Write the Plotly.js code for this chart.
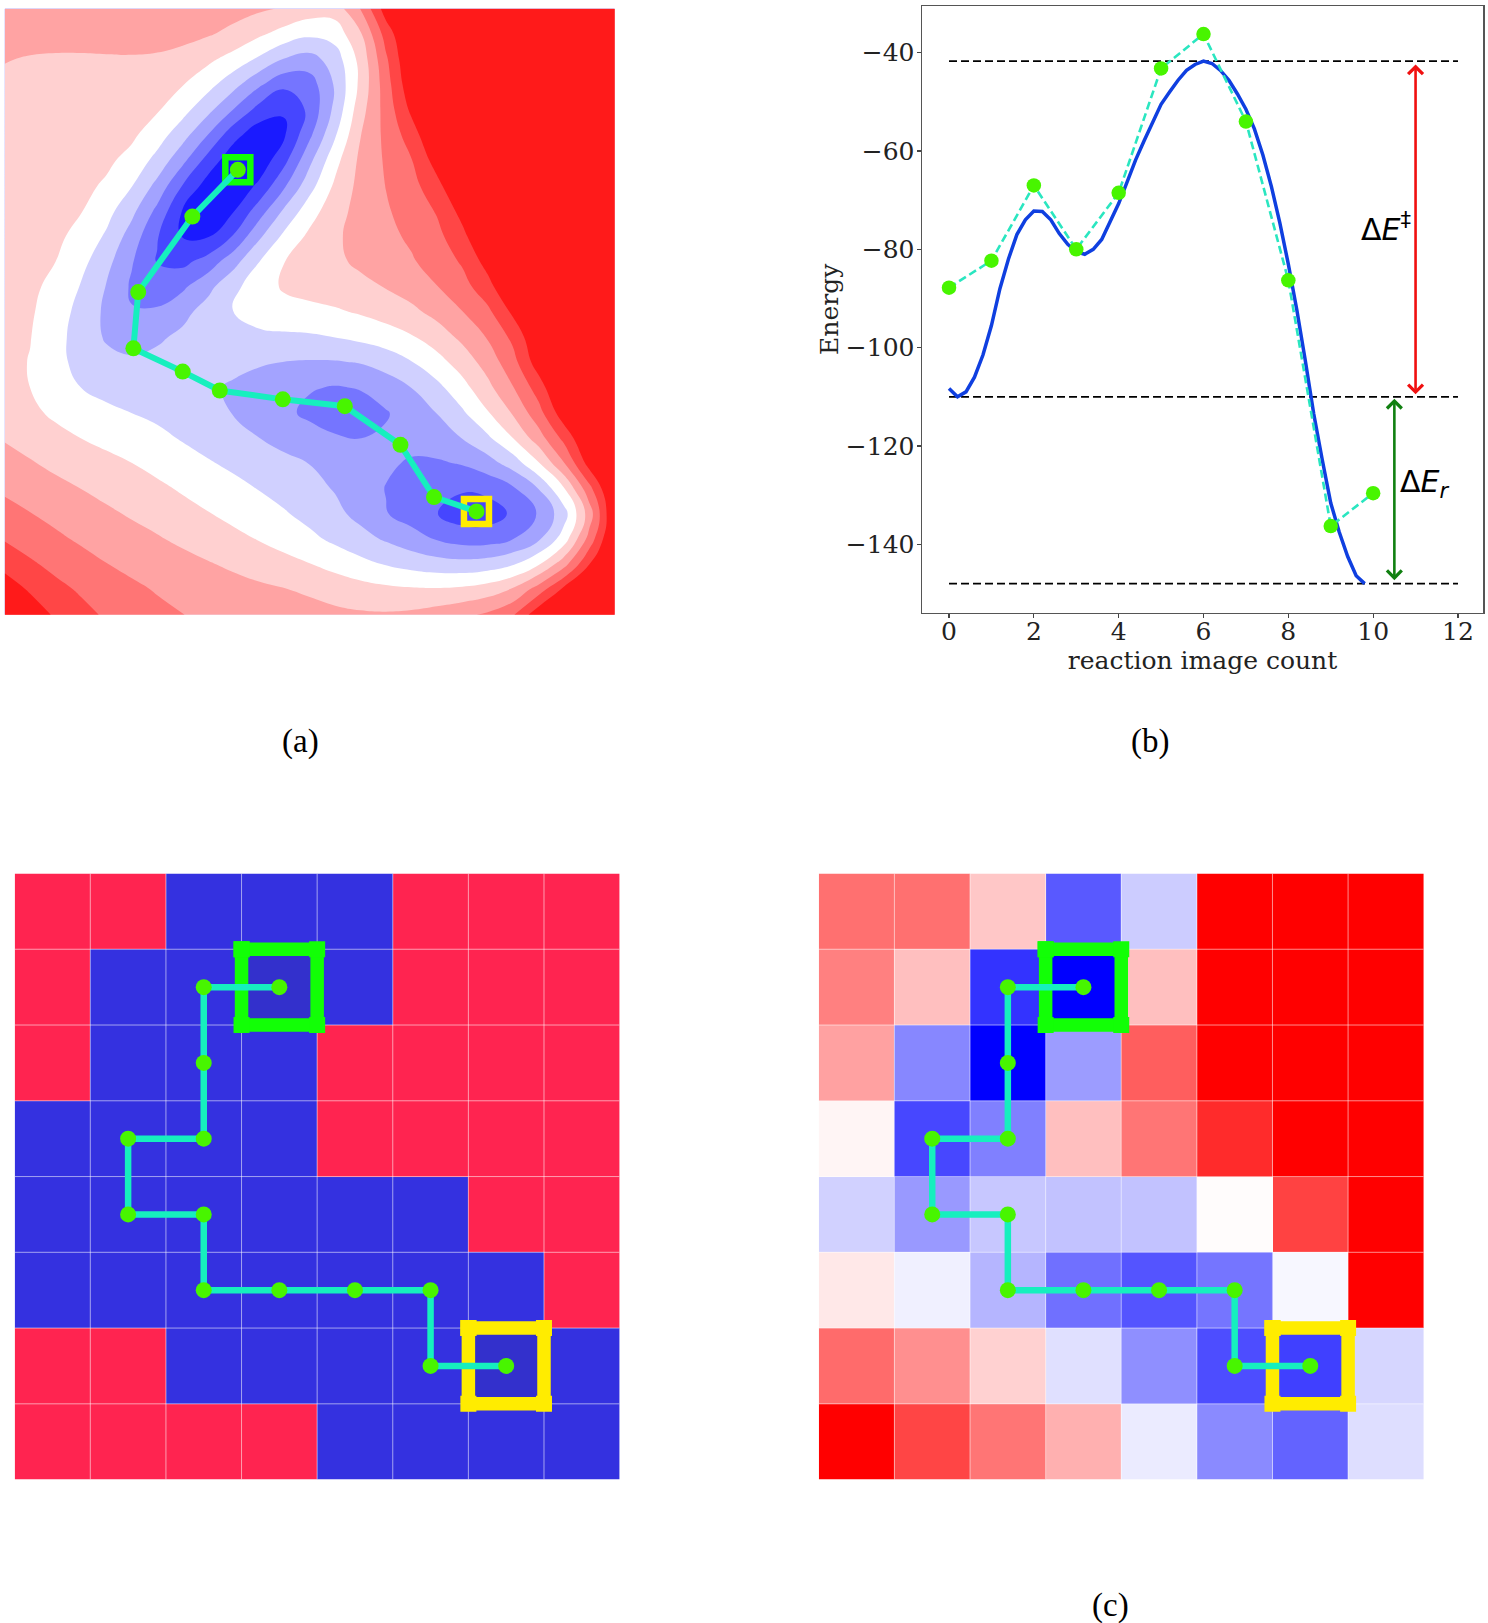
<!DOCTYPE html>
<html><head><meta charset="utf-8">
<script src="https://cdn.plot.ly/plotly-3.0.0.min.js"></script>
<style>html,body{margin:0;padding:0;background:#fff}#chart{width:1488px;height:1623px}</style>
</head><body><div id="chart"></div>
<script>
// (a) energy surface: band index (rows top to bottom)
const surfaceBandColors = ['#1a1aff','#4646ff','#7575ff','#a3a3ff','#d0d0ff','#ffffff','#ffd0d0','#ffa3a3','#ff7575','#ff4646','#ff1a1a'];
const surfaceZ = [
[2.1,2.1,2.1,2.1,2.1,2.1,2.1,2.1,2.0,2.0,1.85,1.7,1.3,.8,2.6,5.6,8,8,8,8,8,8,8,8,8],
[1.9,1.9,1.9,1.9,1.9,1.9,1.9,1.9,1.75,1.4,.65,.15,-.35,-.35,.9,3.9,6,8,8,8,8,8,8,8,8],
[1.55,1.35,1.3,1.3,1.35,1.4,1.4,1.2,.65,.15,-.5,-1.6,-2.3,-1.25,.65,3.3,6,8,8,8,8,8,8,8,8],
[1.3,1.2,1.2,1.2,1.2,1.1,.9,.6,-.05,-1.1,-2.4,-3.6,-3.4,-1.5,.6,3,5.6,8,8,8,8,8,8,8,8],
[1.2,1.15,1.15,1.1,1.05,.9,.8,-.05,-1.15,-2.4,-3.9,-5.1,-3.5,-1.4,1.35,2.8,4.8,7,8,8,8,8,8,8,8],
[1.15,1.1,1.05,1,.95,.85,0,-1.05,-2.4,-4.4,-5.7,-5.1,-2.7,-.7,1.7,2.8,3.7,6,8,8,8,8,8,8,8],
[1.1,1.05,1,.9,.75,.3,-.7,-2.1,-4,-5.6,-5.6,-3.9,-1.6,.3,1.9,2.65,3.2,5,7,8,8,8,8,8,8],
[1.05,1,.95,.8,.5,-.35,-1.7,-3.6,-5.3,-5.7,-4.5,-2.7,-.9,.75,1.9,2.55,3.1,3.95,6,8,8,8,8,8,8],
[1,.95,.85,.65,-.1,-1.2,-2.6,-5.1,-5.7,-4.7,-3,-1.2,.2,1.2,1.9,2.4,2.9,3.4,4.7,7,8,8,8,8,8],
[.95,.9,.75,.3,-.5,-1.95,-3.6,-4.9,-5,-3.7,-1.6,-.2,.85,1.4,1.9,2.25,2.65,3.15,4.05,6,8,8,8,8,8],
[.9,.8,.6,-.15,-1.2,-2.4,-3.9,-4,-3.1,-1.8,-.35,.75,1.05,1.35,1.75,2.05,2.4,2.95,3.45,4.8,7,8,8,8,8],
[.8,.7,.4,-.6,-1.5,-2.9,-3.3,-2.7,-1.7,-.55,.2,.8,.9,1.05,1.3,1.55,2,2.5,3.1,4,6,8,8,8,8],
[.95,.7,0,-.85,-1.7,-2.7,-2.4,-1.75,-.95,-.25,.1,.25,.3,.4,.6,.95,1.25,1.8,2.55,3,4.7,7,8,8,8],
[.85,.62,-.15,-1,-1.75,-2.1,-1.6,-1.2,-.95,-.85,-.75,-.7,-.65,-.45,-.15,.1,.4,.95,1.7,2.6,3.4,5.6,8,8,8],
[.85,.52,-.3,-.85,-1.25,-1.3,-1.15,-1.05,-1.1,-1.2,-1.4,-1.55,-1.6,-1.6,-1.55,-1.2,-.55,.15,.9,1.9,2.95,5.5,8,8,8],
[.8,.52,-.05,-.6,-.85,-.95,-1,-1.15,-1.4,-1.75,-2.05,-2.25,-2.5,-2.7,-2.55,-2.05,-1.6,-.85,.15,1.2,2.55,3.5,6.5,8,8],
[.85,.7,.3,0,-.3,-.55,-.75,-1,-1.25,-1.55,-1.9,-2.4,-3,-3.3,-3.2,-2.8,-2.2,-1.6,-.7,.5,1.6,3,5.5,8,8],
[1.55,1.05,.75,.5,.25,.1,-.25,-.6,-.95,-1.25,-1.5,-1.8,-2,-2.4,-2.55,-2.3,-2.1,-1.9,-1.5,-.75,.55,2.2,3.5,6,8],
[1.9,1.6,1.25,.95,.75,.5,.2,-.1,-.4,-.7,-1,-1.25,-1.45,-1.75,-2,-2.3,-2.7,-2.7,-2.5,-1.95,-1.15,.4,2.5,5.5,8],
[2.35,2.05,1.8,1.5,1.25,1,.7,.4,.1,-.2,-.55,-.9,-1.2,-1.6,-2,-2.6,-3,-3.2,-3.4,-3.3,-2.9,-1.8,.2,3,8],
[2.95,2.5,2.25,1.95,1.65,1.4,1.15,.8,.55,.25,-.05,-.4,-.85,-1.25,-1.85,-2.7,-3.1,-3.7,-4.6,-4.6,-3.6,-2.8,-1.7,1,6.5],
[3.45,2.95,2.65,2.35,2.05,1.8,1.6,1.3,1,.7,.45,.1,-.3,-.8,-1.2,-1.6,-2.1,-2.7,-3,-3.1,-2.8,-2,-.45,2.75,7],
[4.3,3.6,3.2,2.85,2.5,2.25,2.05,1.85,1.6,1.35,1.05,.8,.55,.15,-.25,-.65,-.95,-1.1,-1.2,-1.05,-.7,.25,1.75,4.6,7],
[5.2,4.3,3.75,3.35,3,2.7,2.4,2.25,2.05,1.9,1.75,1.6,1.45,1.2,.95,.8,.7,.6,.65,.95,1.5,2.8,5.2,8,8],
[6,5.2,4.45,3.9,3.4,3.1,2.8,2.55,2.4,2.25,2.1,2,1.9,1.8,1.75,1.75,1.85,2.2,2.6,3,3.4,6,8,8,8]
];
const surfacePathX = [9.17,7.38,5.25,5.06,7.0,8.46,10.94,13.38,15.57,16.89,18.56];
const surfacePathY = [6.38,8.23,11.22,13.45,14.37,15.12,15.47,15.74,17.27,19.34,19.91];

// (b) energy profile
const imageCount = [0,1,2,3,4,5,6,7,8,9,10];
const imageEnergy = [-87.8,-82.3,-67,-80,-68.5,-43.2,-36.2,-54,-86.3,-136.3,-129.6];
const curveX = [0,.2,.4,.6,.8,1,1.2,1.4,1.6,1.8,2,2.2,2.4,2.6,2.8,3,3.2,3.4,3.6,3.8,4,4.2,4.4,4.6,4.8,5,5.2,5.4,5.6,5.8,6,6.2,6.4,6.6,6.8,7,7.2,7.4,7.6,7.8,8,8.2,8.4,8.6,8.8,9,9.2,9.4,9.6,9.8];
const curveEnergy = [-108.3,-110,-109,-106,-101.5,-95.5,-88,-82,-77,-74,-72.2,-72.3,-74,-76.8,-79,-80.5,-81,-80,-78,-74.5,-70.7,-66.3,-61.8,-57.9,-54,-50.5,-48,-45.6,-43.6,-42.4,-41.7,-42.2,-43.6,-45.6,-48.4,-51.5,-55.5,-60.8,-67.2,-74.6,-83,-92.3,-102.6,-113.5,-122.8,-131.6,-137.5,-142.5,-146.4,-148];
const refLevels = [-41.7,-110,-148];
const xTicks = [0,2,4,6,8,10,12];
const yTicks = [-40,-60,-80,-100,-120,-140];

// (c) grids
const classGrid = [
[1,1,0,0,0,1,1,1],
[1,0,0,0,0,1,1,1],
[1,0,0,0,1,1,1,1],
[0,0,0,0,1,1,1,1],
[0,0,0,0,0,0,1,1],
[0,0,0,0,0,0,0,1],
[1,1,0,0,0,0,0,0],
[1,1,1,1,0,0,0,0]];
const energyGrid = [
[.56,.56,.22,-.65,-.2,1,1,1],
[.5,.25,-.8,-1,.25,1,1,1],
[.37,-.47,-1,-.39,.63,1,1,1],
[.04,-.72,-.5,.25,.54,.83,1,1],
[-.18,-.4,-.22,-.24,-.24,.01,.74,1],
[.09,-.06,-.29,-.56,-.67,-.54,-.03,1],
[.58,.44,.18,-.12,-.44,-.7,-.75,-.16],
[1,.73,.54,.31,-.08,-.46,-.61,-.13]];
const gridPathCol = [3,2,2,2,1,1,2,2,3,4,5,5,6];
const gridPathRow = [1,1,2,3,3,4,4,5,5,5,5,6,6];
const startCell = [3,1], endCell = [6,6];

const TEAL='#16efbe', DOT='#48f500', LIME='#12ff06', YELLOW='#ffec00';
const SERIF='"DejaVu Serif", serif';

function dom(a,b,size){return [a/size,b/size];}
function ydom(top,bottom){return [1-bottom/1623,1-top/1623];}
const hidden=(o)=>Object.assign({visible:false,showgrid:false,zeroline:false},o);
const idx=(n)=>Array.from({length:n},(_,i)=>i);

// evens out the reading noise of the hand-read table so the contour edges stay smooth
function evenOut(g){
  const N=g.length, c=g.map(r=>r.map(v=>Math.min(v,6.5)));
  const at=(j,i)=>c[Math.max(0,Math.min(N-1,j))][Math.max(0,Math.min(N-1,i))];
  return c.map((r,j)=>r.map((_,i)=>{
    let s=0;
    for(let a=-1;a<=1;a++)for(let b=-1;b<=1;b++){s+=(a?1:4)*(b?1:4)*at(j+a,i+b);}
    return s/36;
  }));
}

const traces=[];
// (a)
const n=surfaceBandColors.length;
traces.push({type:'contour',xaxis:'x',yaxis:'y',x:idx(25),y:idx(25),z:evenOut(surfaceZ),autocontour:false,
  contours:{coloring:'fill',start:-4.5,end:4.5,size:1,showlines:false},
  line:{width:0,smoothing:1.3},zmin:-5,zmax:5,showscale:false,hoverinfo:'skip',
  colorscale:surfaceBandColors.map((c,i)=>[i/(n-1),c])});
traces.push({type:'scatter',mode:'markers',xaxis:'x',yaxis:'y',x:[surfacePathX[0]],y:[surfacePathY[0]],
  marker:{symbol:'square-open',size:25,color:LIME,line:{color:LIME,width:6.5}},showlegend:false});
traces.push({type:'scatter',mode:'markers',xaxis:'x',yaxis:'y',x:[surfacePathX[10]],y:[surfacePathY[10]],
  marker:{symbol:'square-open',size:25,color:YELLOW,line:{color:YELLOW,width:6.5}},showlegend:false});
traces.push({type:'scatter',mode:'lines+markers',xaxis:'x',yaxis:'y',x:surfacePathX,y:surfacePathY,
  line:{color:TEAL,width:6},marker:{color:DOT,size:16},showlegend:false});

// (b)
refLevels.forEach(v=>traces.push({type:'scatter',mode:'lines',xaxis:'x2',yaxis:'y2',x:[0,12],y:[v,v],
  line:{color:'#000',width:1.8,dash:'8px,4px'},showlegend:false}));
traces.push({type:'scatter',mode:'lines',xaxis:'x2',yaxis:'y2',x:curveX,y:curveEnergy,
  line:{color:'#0f3fe0',width:3.5},showlegend:false});
traces.push({type:'scatter',mode:'lines+markers',xaxis:'x2',yaxis:'y2',x:imageCount,y:imageEnergy,
  line:{color:'#2ae6c0',width:2.6,dash:'8px,4px'},marker:{color:DOT,size:14.5},showlegend:false});

// (c)
function addGrid(z,xa,ya,cs,zmin,zmax,tint){
  traces.push({type:'heatmap',xaxis:xa,yaxis:ya,z:z,x:idx(8),y:idx(8),colorscale:cs,zmin:zmin,zmax:zmax,showscale:false,hoverinfo:'skip'});
  const gx=[],gy=[];
  for(let k=0;k<7;k++){gx.push(k+.5,k+.5,null,-.5,7.5,null);gy.push(-.5,7.5,null,k+.5,k+.5,null);}
  traces.push({type:'scatter',mode:'lines',xaxis:xa,yaxis:ya,x:gx,y:gy,line:{color:'rgba(255,255,255,.55)',width:1},showlegend:false,hoverinfo:'skip'});
  [[startCell,LIME],[endCell,YELLOW]].forEach(([c,col])=>{
    const L=c[0]-.5,R=c[0]+.5,T=c[1]-.5,B=c[1]+.5;
    if(tint){traces.push({type:'scatter',mode:'lines',xaxis:xa,yaxis:ya,x:[L,R,R,L,L],y:[T,T,B,B,T],fill:'toself',fillcolor:tint,line:{width:0},showlegend:false,hoverinfo:'skip'});}
    traces.push({type:'scatter',mode:'lines+markers',xaxis:xa,yaxis:ya,x:[L,R,R,L,L],y:[T,T,B,B,T],
      line:{color:col,width:13.5},marker:{symbol:'square',size:16,color:col},showlegend:false,hoverinfo:'skip'});
  });
  traces.push({type:'scatter',mode:'lines+markers',xaxis:xa,yaxis:ya,x:gridPathCol,y:gridPathRow,
    line:{color:TEAL,width:6.5},marker:{color:DOT,size:16},showlegend:false});
}
addGrid(classGrid,'x3','y3',[[0,'#3431e0'],[1,'#ff2450']],0,1,'rgba(52,48,190,.6)');
addGrid(energyGrid,'x4','y4',[[0,'#0000ff'],[.5,'#ffffff'],[1,'#ff0000']],-1,1,null);

const paperLabel=(t,px,py)=>({xref:'paper',yref:'paper',x:px/1488,y:1-py/1623,text:t,showarrow:false,xanchor:'center',yanchor:'middle',
  font:{family:'"Liberation Serif", serif',size:33,color:'#000'}});
const dataLabel=(t,x,y)=>({xref:'x2',yref:'y2',x:x,y:y,text:t,showarrow:false,xanchor:'center',yanchor:'middle',
  font:{family:'"DejaVu Sans", sans-serif',size:30,color:'#000'}});
const arrow=(x,y0,y1,col)=>({xref:'x2',yref:'y2',axref:'x2',ayref:'y2',x:x,y:y1,ax:x,ay:y0,text:'',showarrow:true,
  arrowside:'end+start',arrowhead:4,startarrowhead:4,arrowsize:1.1,startarrowsize:1.1,arrowwidth:2.6,arrowcolor:col,standoff:0,startstandoff:0});

const axisFont={family:SERIF,size:25,color:'#222'};
const layout={width:1488,height:1623,margin:{l:0,r:0,t:0,b:0},paper_bgcolor:'#fff',plot_bgcolor:'#fff',showlegend:false,
  xaxis:hidden({domain:dom(4.8,614.7,1488),range:[0,24]}),
  yaxis:hidden({domain:ydom(8.8,614.7),range:[24,0]}),
  xaxis2:{domain:dom(922,1483,1488),range:[-.637,12.59],anchor:'y2',tickvals:xTicks,showgrid:false,zeroline:false,ticks:'outside',ticklen:4,tickwidth:1.3,tickcolor:'#444',
    showline:true,mirror:true,linecolor:'#555',linewidth:1.5,tickfont:axisFont,ticklabelstandoff:-8,
    title:{text:'reaction image count',font:{family:SERIF,size:25,color:'#222'},standoff:0}},
  yaxis2:{domain:ydom(6,612.6),range:[-153.9,-30.5],anchor:'x2',tickvals:yTicks,showgrid:false,zeroline:false,ticks:'outside',ticklen:4,tickwidth:1.3,tickcolor:'#444',
    showline:true,mirror:true,linecolor:'#555',linewidth:1.5,tickfont:axisFont,ticklabelstandoff:-3,
    title:{text:'Energy',font:{family:SERIF,size:25,color:'#222'},standoff:0}},
  xaxis3:hidden({domain:dom(14.7,619.6,1488),range:[-.5,7.5],anchor:'y3'}),
  yaxis3:hidden({domain:ydom(873.5,1479.6),range:[7.5,-.5],anchor:'x3'}),
  xaxis4:hidden({domain:dom(818.8,1423.7,1488),range:[-.5,7.5],anchor:'y4'}),
  yaxis4:hidden({domain:ydom(873.5,1479.6),range:[7.5,-.5],anchor:'x4'}),
  annotations:[
    paperLabel('(a)',300,742),paperLabel('(b)',1150,742),paperLabel('(c)',1110,1605),
    dataLabel('Δ<i>E</i><sup>‡</sup>',10.3,-75.6),dataLabel('Δ<i>E<sub>r</sub></i>',11.23,-127.7),
    arrow(11,-109.8,-42.4,'#f01010'),arrow(10.5,-147.6,-110.4,'#118011')
  ]};
Plotly.newPlot('chart',traces,layout,{displayModeBar:false,staticPlot:true});
</script></body></html>
